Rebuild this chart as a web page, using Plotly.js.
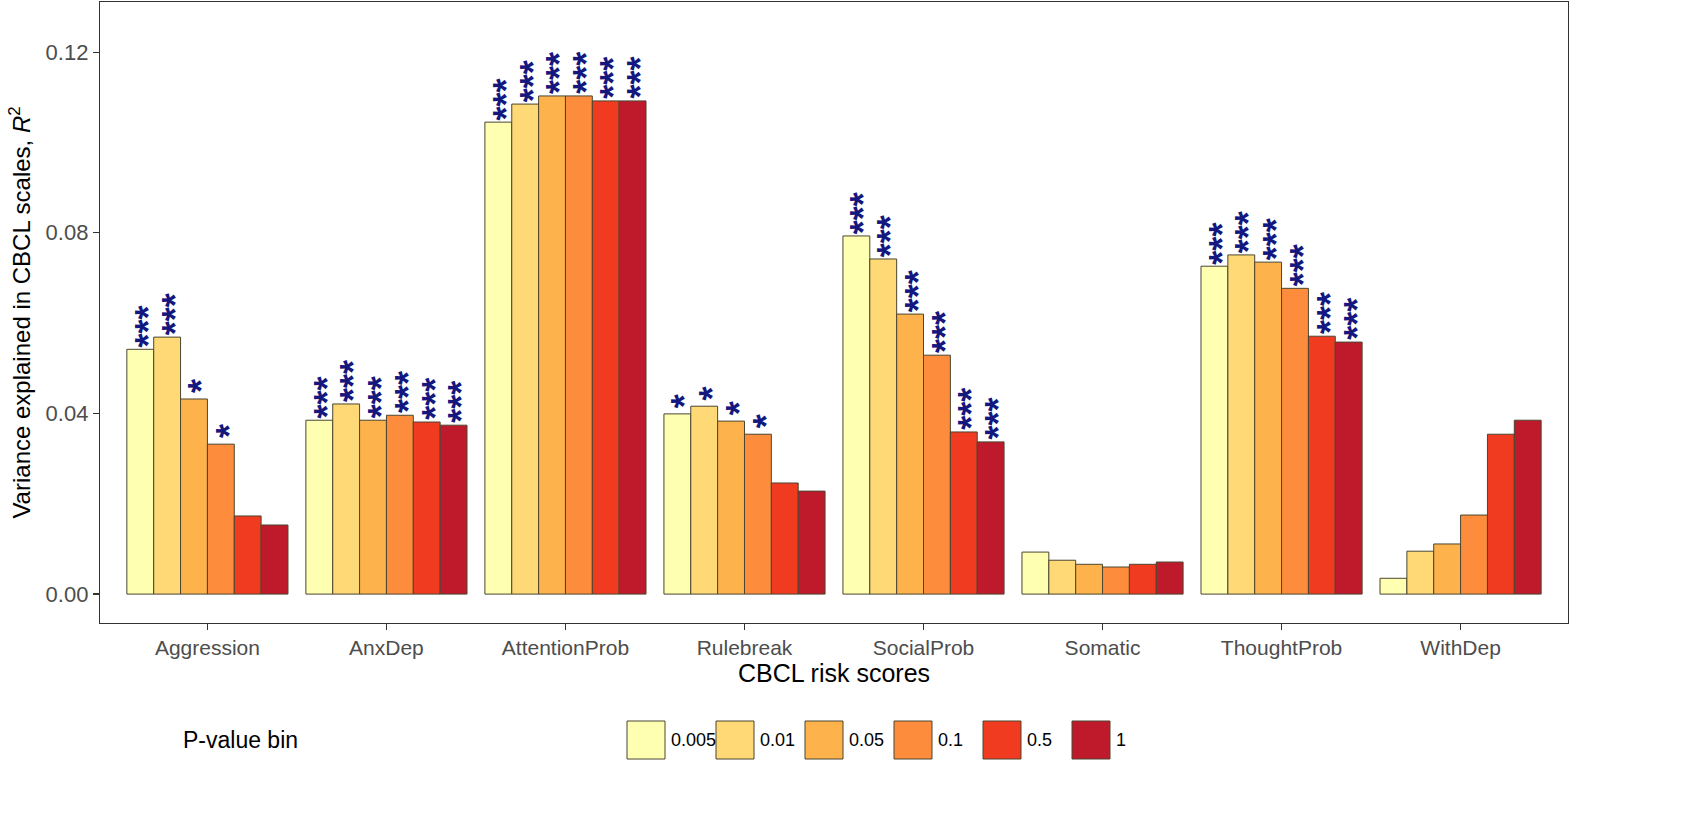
<!DOCTYPE html>
<html>
<head>
<meta charset="utf-8">
<script src="https://cdn.plot.ly/plotly-3.0.1.min.js"></script>
<style>html,body{margin:0;padding:0;background:#fff;}#chart{width:1689px;height:821px;}</style>
</head>
<body>
<div id="chart"></div>
<script>
const categories = ["Aggression","AnxDep","AttentionProb","Rulebreak","SocialProb","Somatic","ThoughtProb","WithDep"];
const bins = ["0.005","0.01","0.05","0.1","0.5","1"];
const binColors = ["#FFFFB2","#FED976","#FEB24C","#FD8D3C","#F03B20","#BE1A2C"];

// R^2 values per p-value bin for each category
const r2_005 = [0.0542,0.0385,0.1045,0.0399,0.0793,0.0093,0.0726,0.0035];
const r2_01  = [0.0569,0.0421,0.1085,0.0416,0.0742,0.0075,0.0751,0.0095];
const r2_05  = [0.0432,0.0385,0.1103,0.0383,0.0620,0.0066,0.0735,0.0111];
const r2_1   = [0.0332,0.0396,0.1103,0.0354,0.0529,0.0060,0.0677,0.0175];
const r2_5   = [0.0173,0.0381,0.1092,0.0246,0.0359,0.0066,0.0571,0.0354];
const r2_10  = [0.0153,0.0374,0.1092,0.0228,0.0337,0.0071,0.0558,0.0385];

const sig_005 = ["***","***","***","*","***","","***",""];
const sig_01  = ["***","***","***","*","***","","***",""];
const sig_05  = ["*","***","***","*","***","","***",""];
const sig_1   = ["*","***","***","*","***","","***",""];
const sig_5   = ["","***","***","","***","","***",""];
const sig_10  = ["","***","***","","***","","***",""];

const yTickVals = [0,0.04,0.08,0.12];
const yTickText = ["0.00","0.04","0.08","0.12"];

const values = [r2_005,r2_01,r2_05,r2_1,r2_5,r2_10];
const sigs = [sig_005,sig_01,sig_05,sig_1,sig_5,sig_10];

const FONT = 'Liberation Sans, Arial, sans-serif';
const xIdx = categories.map((c,i)=>i);
const nB = bins.length;
const groupW = 0.9;
const barW = groupW/nB;

const traces = bins.map((b,k)=>({
  type:'bar',
  name:b,
  x:xIdx,
  y:values[k],
  width:barW,
  offset:-groupW/2 + k*barW,
  marker:{color:binColors[k], line:{color:'#4a4630', width:1}},
  showlegend:false,
  hoverinfo:'x+y'
}));

const annotations = [];
bins.forEach((b,k)=>{
  categories.forEach((c,j)=>{
    const s = sigs[k][j];
    if(!s) return;
    annotations.push({
      x: j - groupW/2 + (k+0.5)*barW,
      y: values[k][j],
      xref:'x', yref:'y',
      text: '<b>' + s + '</b>',
      textangle: -90,
      showarrow:false,
      xanchor:'center', yanchor:'bottom',
      xshift: 8, yshift: s.length===1 ? 4 : 0,
      font:{family:FONT, size:36, color:'#14177E'}
    });
  });
});

// manual legend (ggplot-style large keys)
const plotL = 100, plotR = 1568, plotT = 2, plotB = 623;
const pw = plotR-plotL, ph = plotB-plotT;
const px = v => (v-plotL)/pw;
const py = v => (plotB-v)/ph;
const shapes = [];
const keyStart = 627, keyStep = 89, keySize = 38, keyTop = 721;
bins.forEach((b,k)=>{
  const x0 = keyStart + k*keyStep;
  shapes.push({type:'rect', xref:'paper', yref:'paper',
    x0:px(x0), x1:px(x0+keySize), y0:py(keyTop+keySize), y1:py(keyTop),
    fillcolor:binColors[k], line:{color:'#4a4630', width:1}});
  annotations.push({xref:'paper', yref:'paper', x:px(x0+keySize+4), y:py(keyTop+keySize/2),
    text:b, showarrow:false, xanchor:'left', yanchor:'middle',
    font:{family:FONT, size:18, color:'#000000'}});
});
annotations.push({xref:'paper', yref:'paper', x:px(181), y:py(keyTop+keySize/2),
  text:'P-value bin', showarrow:false, xanchor:'left', yanchor:'middle',
  font:{family:FONT, size:23, color:'#000000'}});

const layout = {
  width:1689, height:821,
  margin:{l:plotL, r:1689-plotR, t:plotT, b:821-plotB, pad:0},
  paper_bgcolor:'#ffffff', plot_bgcolor:'#ffffff',
  font:{family:FONT},
  barmode:'overlay',
  xaxis:{
    range:[-0.6, 7.6],
    tickmode:'array', tickvals:xIdx, ticktext:categories,
    ticks:'outside', ticklen:6, tickcolor:'#333333', tickwidth:1.2,
    tickfont:{size:21, color:'#4D4D4D'},
    showgrid:false, zeroline:false,
    showline:true, mirror:true, linecolor:'#333333', linewidth:1.2,
    title:{text:'CBCL risk scores', font:{size:25, color:'#000000'}, standoff:2}
  },
  yaxis:{
    range:[-0.0064, 0.1311],
    tickmode:'array', tickvals:yTickVals, ticktext:yTickText,
    ticks:'outside', ticklen:6, tickcolor:'#333333', tickwidth:1.2,
    tickfont:{size:22, color:'#4D4D4D'},
    showgrid:false, zeroline:false,
    showline:true, mirror:true, linecolor:'#333333', linewidth:1.2,
    title:{text:'Variance explained in CBCL scales, <i>R</i><sup>2</sup>', font:{size:24, color:'#000000'}, standoff:8}
  },
  shapes:shapes,
  annotations:annotations,
  showlegend:false
};

Plotly.newPlot('chart', traces, layout, {displayModeBar:false, staticPlot:true});
</script>
</body>
</html>
